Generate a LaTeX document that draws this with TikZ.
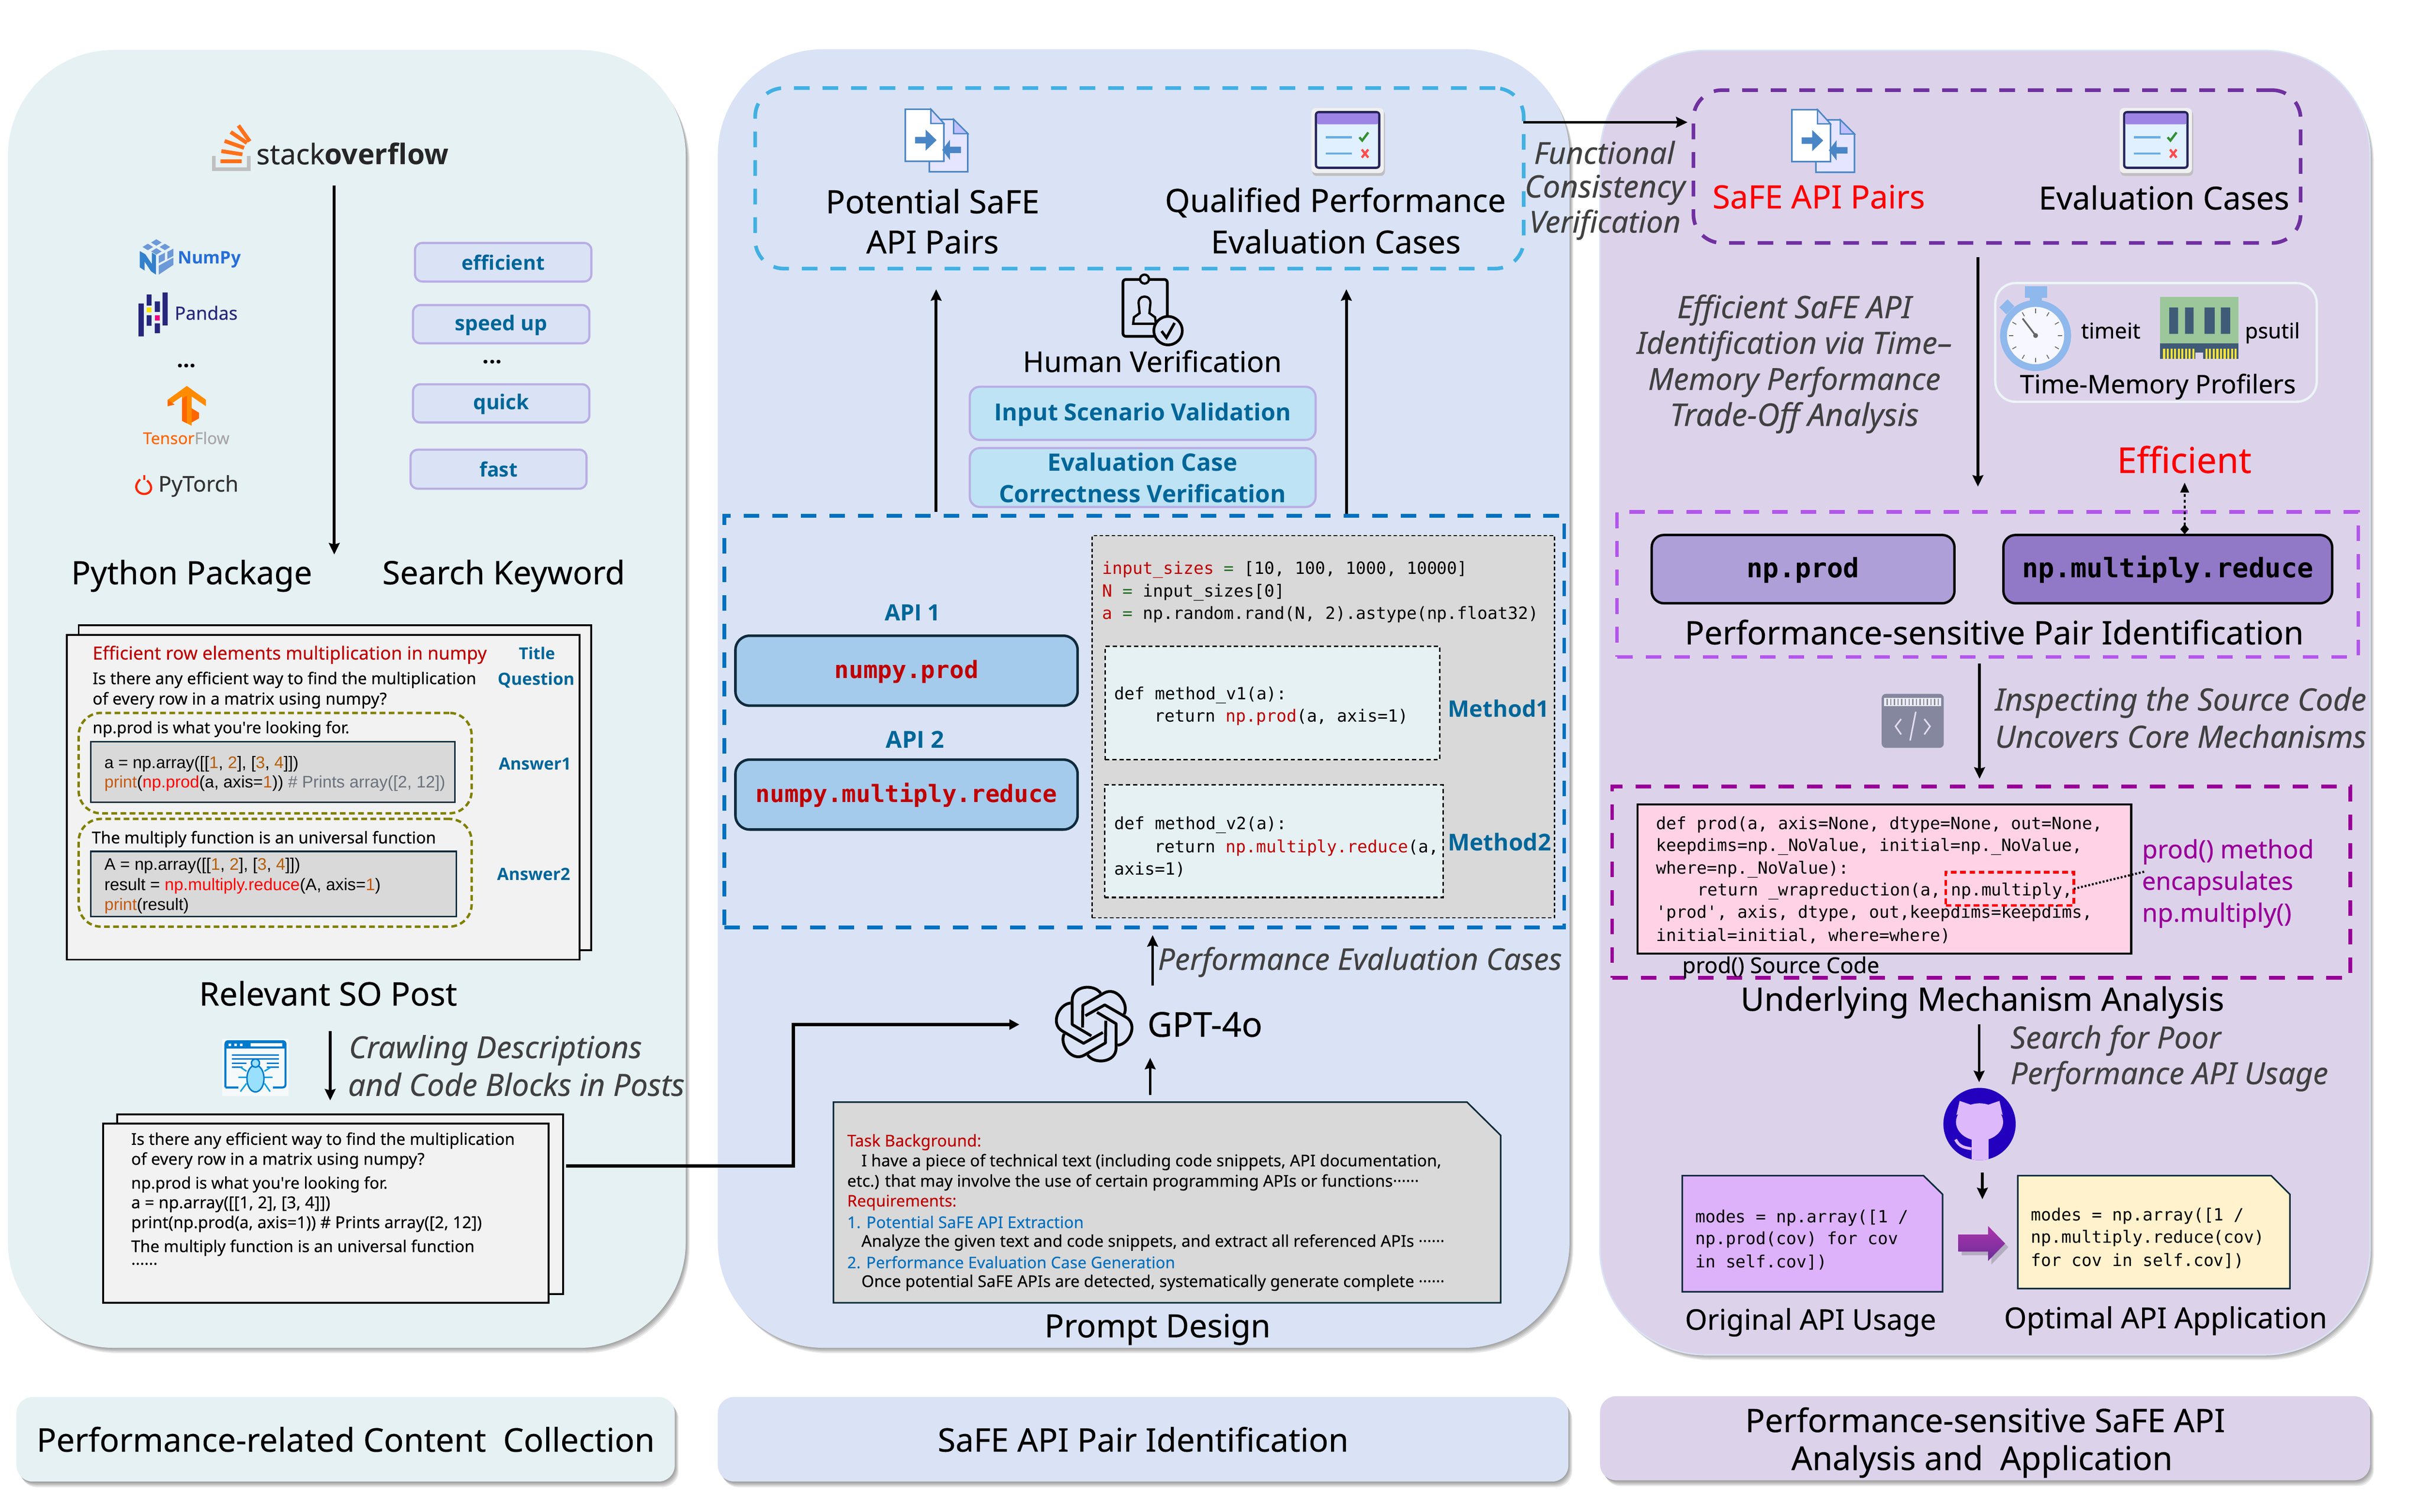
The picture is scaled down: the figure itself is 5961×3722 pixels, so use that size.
\documentclass[tikz,border=0pt]{standalone}
\usepackage{fontspec}
\setmainfont{Noto Sans}[FakeBold=0.2]
\setmonofont{DejaVu Sans Mono}
\newfontfamily\ars{Liberation Sans}
\newfontfamily\osb{Open Sans}
\usetikzlibrary{arrows.meta,calc}
\definecolor{pa}{HTML}{E6F1F4}
\definecolor{pb}{HTML}{DAE3F5}
\definecolor{pc}{HTML}{DCD3EB}
\definecolor{kwb}{HTML}{B9ADE5}
\definecolor{ttl}{HTML}{006699}
\definecolor{darkred}{HTML}{C00000}
\definecolor{num}{HTML}{B45F06}
\definecolor{prn}{HTML}{C55A11}
\definecolor{cmt}{HTML}{6A737D}
\definecolor{navy}{HTML}{0F2B3C}
\definecolor{ital}{HTML}{404040}
\definecolor{cya}{HTML}{41B0E3}
\definecolor{blu}{HTML}{0070C0}
\definecolor{pur}{HTML}{7030A0}
\definecolor{vio}{HTML}{B455EC}
\definecolor{mag}{HTML}{990099}
\definecolor{gry}{HTML}{D9D9D9}
\definecolor{olv}{HTML}{808000}
\definecolor{apif}{HTML}{A5CBEC}
\definecolor{chkf}{HTML}{BEE3F5}
\definecolor{pka}{HTML}{AF9FD8}
\definecolor{pkb}{HTML}{9279C7}
\definecolor{pnk}{HTML}{FFD3E5}
\definecolor{noteL}{HTML}{DDB2FA}
\definecolor{noteR}{HTML}{FFF2CC}
\definecolor{gh}{HTML}{2200BE}
\definecolor{cat}{HTML}{DDB9FB}
\definecolor{watch}{HTML}{8FB8EC}
\definecolor{codeg}{HTML}{85879E}
\definecolor{icb}{HTML}{4A86C5}
\definecolor{ramg}{HTML}{9CC79A}
\definecolor{rams}{HTML}{3F5B78}
\makeatletter
\newcommand\fw[2]{\sbox0{\fontsize{10pt}{12pt}\selectfont #2}\edef\fwz{\fpeval{10*#1*0.284528/\strip@pt\wd0}}\fontsize{\fwz pt}{\fwz pt}\selectfont\rule[-.09em]{0pt}{.94em}#2}
\makeatother
\newcommand\cdf{\ttfamily\fontsize{11.8pt}{14pt}\selectfont\rule[-.09em]{0pt}{.94em}}
\newcommand\T[6][]{\node[txt,#1] (#2) at (#3,#4) {\fw{#5}{#6}};}
\newcommand\C[4]{\node[txt,anchor=west] (#1) at (#2,#3) {\cdf #4};}
\newcommand\B[7][]{\node[boxn,minimum width=\fpeval{(#5-#3)*0.01}cm,minimum height=\fpeval{(#6-#4)*0.01}cm,#1] (#2) at (\fpeval{(#3+#5)/2},\fpeval{(#4+#6)/2}) {#7};}
\newcommand\panel[5]{%
  \foreach \k in {14,11,8,5,2}{\fill[black,opacity=.09,rounded corners=#5 cm] (#1+\k*0.7,#2+\k) rectangle (#3+\k*0.7,#4+\k);}%
}
\newcommand\fileicon[2]{\begin{scope}[shift={(#1,#2)}]
 \draw[fill=blue!10!white,draw=icb,line width=1.1pt] (59,25) -- (119,25) -- (154,60) -- (154,154) -- (59,154) -- cycle;
 \draw[fill=blue!25!white,draw=icb,line width=.9pt] (119,25) -- (119,60) -- (154,60) -- cycle;
 \draw[fill=white,draw=icb,line width=1.1pt] (0,0) -- (63,0) -- (95,35) -- (95,128) -- (0,128) -- cycle;
 \draw[fill=blue!15!white,draw=icb,line width=.9pt] (63,0) -- (63,35) -- (95,35) -- cycle;
 \fill[icb] (24,68) -- (50,68) -- (50,50) -- (77,76) -- (50,102) -- (50,84) -- (24,84) -- cycle;
 \fill[icb] (137,92) -- (110,92) -- (110,75) -- (91,100) -- (110,125) -- (110,108) -- (137,108) -- cycle;
\end{scope}}
\newcommand\evalicon[2]{\begin{scope}[shift={(#1,#2)}]
 \fill[black!25,rounded corners=3pt] (2,6) rectangle (181,167);
 \fill[black!6,rounded corners=3pt] (0,0) rectangle (178,160);
 \draw[fill=blue!50!cyan!12,draw=blue!25!black!85,line width=1.6pt,rounded corners=2pt] (11,10) rectangle (167,147);
 \fill[blue!35!white!80!violet,rounded corners=1pt] (14,13) rectangle (164,40);
 \draw[cyan!70!blue!60,line width=1.4pt] (35,72) -- (100,72) (35,112) -- (100,112);
 \draw[green!45!black!80,line width=1.6pt] (118,72) -- (125,80) -- (140,60);
 \draw[red!70,line width=1.6pt] (124,102) -- (140,122) (140,102) -- (124,122);
\end{scope}}
\tikzset{
 txt/.style={inner sep=0pt,outer sep=0pt},
 boxn/.style={inner sep=0pt,outer sep=0pt,align=center},
 tl/.style={anchor=west},
 kw/.style={draw=kwb,fill=pb,line width=1.5pt,rounded corners=.18cm,text=ttl,font=\osb\bfseries},
 chk/.style={draw=kwb,fill=chkf,line width=1.5pt,rounded corners=.25cm,text=ttl,font=\osb\bfseries},
 page/.style={draw=black,fill=black!5,line width=1.3pt},
 dsh/.style={dash pattern=on 11pt off 9pt,line width=2.56pt},
 olbox/.style={draw=olv,line width=1.7pt,dash pattern=on 4pt off 2.4pt,rounded corners=.55cm},
 cbox/.style={draw=navy,fill=gry,line width=1.1pt},
 apibox/.style={draw=navy,fill=apif,line width=1.8pt,rounded corners=.35cm,text=darkred,font=\ttfamily\bfseries},
 mbox/.style={draw=black,fill=pa,line width=1.1pt,dash pattern=on 3pt off 2pt},
 note/.style={draw=navy,line width=1.1pt},
 arr/.style={draw=black,line width=2pt,-{Stealth[length=8pt,width=7.5pt,inset=1pt]}},
 it/.style={font=\itshape,text=ital},
 ttlt/.style={text=ttl,font=\osb\bfseries},
}
\begin{document}
\begin{tikzpicture}[x=0.01cm,y=-0.01cm]
\useasboundingbox (0,0) rectangle (5961,3722);
\fill[white] (0,0) rectangle (5961,3722);
% panels and shadows
\panel{20}{124}{1688}{3317}{2.6}
\panel{1768}{122}{3864}{3317}{2.6}
\panel{3940}{125}{5835}{3334}{2.6}
\panel{41}{3439}{1661}{3647}{.4}
\panel{1768}{3439}{3861}{3647}{.4}
\panel{3940}{3437}{5835}{3644}{.4}
\B[fill=pa,rounded corners=2.6cm]{pnlA}{20}{124}{1688}{3317}{}
\B[fill=pb,rounded corners=2.6cm]{pnlB}{1768}{122}{3864}{3317}{}
\B[fill=pc,draw=pb,line width=1pt,rounded corners=2.6cm]{pnlC}{3940}{125}{5835}{3334}{}
\B[fill=pa,rounded corners=.4cm]{barA}{41}{3439}{1661}{3647}{\fw{1521}{Performance-related Content~~Collection}}
\B[fill=pb,rounded corners=.4cm]{barB}{1768}{3439}{3861}{3647}{\fw{1011}{SaFE API Pair Identification}}
\B[fill=pc,rounded corners=.4cm]{barC}{3940}{3437}{5835}{3644}{}
\T{barCa}{4888}{3495}{1181}{Performance-sensitive SaFE API}
\T{barCb}{4880}{3594}{938}{Analysis and~~Application}
% ---------- panel A: logos
\fill[black!25] (522,384) rectangle (531,421) (608,384) rectangle (617,421) (522,412) rectangle (617,421);
\draw[orange!75!red!90,line width=2.7pt] (543,397) -- (595,397) (545,372) -- (597,380) (553,347) -- (601,364) (568,325) -- (608,352) (587,309) -- (615,348);
\T[tl,text=black!85]{so}{631}{378}{473}{stack{\osb\bfseries overflow}}
\coordinate (aS) at (823,457); \coordinate (aE) at (823,1365);
\draw[arr] (aS) -- (aE);
% numpy
\fill[cyan!50!blue!60] (385,589) -- (398,597) -- (385,605) -- (372,597) -- cycle (364,600) -- (377,608) -- (364,616) -- (351,608) -- cycle (406,600) -- (419,608) -- (406,616) -- (393,608) -- cycle (385,611) -- (398,619) -- (385,627) -- (372,619) -- cycle;
\fill[blue!50!cyan!60!gray] (344,618) -- (358,626) -- (374,650) -- (374,622) -- (384,628) -- (384,676) -- (372,668) -- (356,644) -- (356,666) -- (344,658) -- cycle;
\fill[cyan!50!blue!60] (391,630) -- (406,622) -- (406,640) -- (391,648) -- cycle (412,620) -- (427,612) -- (427,630) -- (412,638) -- cycle (391,654) -- (427,634) -- (427,652) -- (391,676) -- cycle;
\T[tl,text=blue!60!cyan!70!gray,font=\osb\bfseries]{numpy}{438}{636}{155}{NumPy}
% pandas
\fill[blue!40!black!85] (341,747) rectangle (354,828) (361,725) rectangle (373,752) (361,776) rectangle (373,802) (381,742) rectangle (394,768) (381,796) rectangle (394,820) (400,720) rectangle (413,801);
\fill[yellow!85!orange] (361,757) rectangle (373,769); \fill[magenta!90!red] (381,776) rectangle (394,789);
\T[tl,text=blue!40!black!85]{pandas}{430}{770}{155}{Pandas}
\T[font=\osb\bfseries]{dots1}{459}{883}{47}{...}
% tensorflow
\fill[orange!90!yellow] (413,984) -- (460,950) -- (507,984) -- (507,1000) -- (472,976) -- (472,1048) -- (448,1036) -- (448,976) -- (413,1000) -- cycle;
\fill[orange!80!red] (448,982) -- (460,974) -- (460,1042) -- (448,1036) -- cycle (472,1005) -- (490,1016) -- (490,1030) -- (472,1040) -- cycle (413,984) -- (430,996) -- (413,1000) -- cycle;
\T[tl]{tf}{352}{1078}{213}{\textcolor{orange!80!red}{Tensor}\textcolor{black!35}{Flow}}
% pytorch
\draw[red!70!orange,line width=1.5pt] (345,1180) .. controls (325,1200) and (340,1216) .. (355,1216) .. controls (372,1216) and (380,1198) .. (362,1183);
\draw[red!70!orange,line width=1.5pt] (355,1182) -- (355,1169);
\T[tl,text=black!80]{pt}{390}{1194}{197}{PyTorch}
% keywords
\B[kw]{kA}{1022}{598}{1456}{693}{\fw{204}{efficient}}
\B[kw]{kB}{1017}{751}{1451}{845}{\fw{227}{speed up}}
\T[font=\osb\bfseries]{dots2}{1212}{874}{47}{...}
\B[kw]{kC}{1017}{946}{1451}{1040}{\fw{138}{quick}}
\B[kw]{kD}{1011}{1107}{1444}{1203}{\fw{94}{fast}}
\T{pyp}{472}{1414}{593}{Python Package}
\T{skw}{1240}{1414}{597}{Search Keyword}
% SO post
\B[page]{pBack}{194}{1539}{1455}{2339}{}
\B[page]{pFront}{165}{1563}{1427}{2362}{}
\T[tl,text=darkred]{pt1}{228}{1610}{970}{Efficient row elements multiplication in numpy}
\T[ttlt]{lt1}{1322}{1608}{89}{Title}
\T[ttlt]{lt2}{1320}{1672}{189}{Question}
\T[tl]{q1}{228}{1672}{944}{Is there any efficient way to find the multiplication}
\T[tl]{q2}{228}{1722}{724}{of every row in a matrix using numpy?}
\B[olbox]{an1}{194}{1755}{1161}{2002}{}
\B[olbox]{an2}{194}{2016}{1161}{2281}{}
\T[tl]{a1t}{228}{1793}{632}{np.prod is what you\textquotesingle re looking for.}
\B[cbox]{c1}{224}{1826}{1120}{1975}{}
\T[tl,font=\ars]{c1a}{257}{1878}{478}{a = np.array([[\textcolor{num}{1}, \textcolor{num}{2}], [\textcolor{num}{3}, \textcolor{num}{4}]])}
\T[tl,font=\ars]{c1b}{257}{1926}{839}{\textcolor{prn}{print}(\textcolor{red}{np.prod}(a, axis=\textcolor{prn}{1})) \textcolor{cmt}{\# Prints array([2, 12])}}
\T[ttlt]{lt3}{1317}{1879}{178}{Answer1}
\T[tl]{a2t}{226}{2064}{847}{The multiply function is an universal function}
\B[cbox]{c2}{224}{2096}{1123}{2256}{}
\T[tl,font=\ars]{c2a}{257}{2128}{482}{A = np.array([[\textcolor{num}{1}, \textcolor{num}{2}], [\textcolor{num}{3}, \textcolor{num}{4}]])}
\T[tl,font=\ars]{c2b}{257}{2178}{680}{result = \textcolor{red}{np.multiply.reduce}(A, axis=\textcolor{prn}{1})}
\T[tl,font=\ars]{c2c}{257}{2227}{208}{\textcolor{prn}{print}(result)}
\T[ttlt]{lt4}{1314}{2151}{180}{Answer2}
\T{rso}{808}{2445}{635}{Relevant SO Post}
% crawler icon
\begin{scope}[shift={(547,2557)}]
 \fill[white,opacity=.6] (0,0) rectangle (163,141);
 \draw[blue!40!cyan!80!black,line width=1.4pt,rounded corners=2pt] (8,120) -- (8,6) -- (156,6) -- (156,120) -- (125,120) (8,120) -- (40,120);
 \fill[blue!40!cyan!80!black] (8,6) rectangle (156,24);
 \fill[white] (70,11) rectangle (148,19) (16,12) rectangle (22,18) (30,12) rectangle (36,18) (44,12) rectangle (50,18);
 \draw[blue!40!cyan!80!black,line width=1.1pt] (24,40) -- (140,40) (24,50) -- (140,50) (24,60) -- (60,60) (110,60) -- (140,60) (24,70) -- (50,70) (110,70) -- (140,70);
 \draw[blue!30!cyan!90!black,line width=1pt] (60,80) -- (45,70) (60,95) -- (40,95) (60,110) -- (45,130) (104,80) -- (120,70) (104,95) -- (124,95) (104,110) -- (118,130);
 \draw[fill=blue!30!cyan!40,draw=blue!40!cyan!80!black,line width=1pt] (82,98) ellipse [x radius=21,y radius=33];
 \draw[fill=blue!30!cyan!40,draw=blue!40!cyan!80!black,line width=1pt] (82,60) circle [radius=10];
\end{scope}
\coordinate (crS) at (813,2538); \coordinate (crE) at (813,2709);
\draw[arr] (crS) -- (crE);
\T[tl,it]{cr1}{859}{2582}{721}{Crawling Descriptions}
\T[tl,it]{cr2}{857}{2669}{828}{and Code Blocks in Posts}
\B[page]{dBack}{289}{2743}{1386}{3185}{}
\B[page]{dFront}{254}{2766}{1350}{3207}{}
\T[tl]{d1}{323}{2806}{944}{Is there any efficient way to find the multiplication}
\T[tl]{d2}{323}{2855}{722}{of every row in a matrix using numpy?}
\T[tl]{d3}{323}{2914}{631}{np.prod is what you\textquotesingle re looking for.}
\T[tl]{d4}{323}{2962}{490}{a = np.array([[1, 2], [3, 4]])}
\T[tl]{d5}{323}{3011}{863}{print(np.prod(a, axis=1)) \# Prints array([2, 12])}
\T[tl]{d6}{323}{3070}{845}{The multiply function is an universal function}
\T[tl]{d7}{323}{3098}{65}{......}
% connector to GPT
\coordinate (cnS) at (1394,2870); \coordinate (cnM) at (1953,2870); \coordinate (cnT) at (1953,2522); \coordinate (cnE) at (2510,2522);
\draw[draw=black,line width=2.3pt,-{Stealth[length=7pt,width=7pt,inset=0pt]}] (cnS) -- (cnM) -- (cnT) -- (cnE);
% ---------- panel B
\B[draw=cya,dsh,rounded corners=.7cm]{cy}{1860}{217}{3751}{661}{}
\fileicon{2229}{269}
\evalicon{3229}{266}
\T{pot1}{2296}{495}{526}{Potential SaFE}
\T{pot2}{2296}{594}{326}{API Pairs}
\T{qu1}{3288}{495}{839}{Qualified Performance}
\T{qu2}{3289}{594}{615}{Evaluation Cases}
\coordinate (upAs) at (2305,1260); \coordinate (upAe) at (2305,712);
\coordinate (upBs) at (3315,1270); \coordinate (upBe) at (3315,712);
\draw[arr] (upAs) -- (upAe);
\draw[arr] (upBs) -- (upBe);
% human icon
\begin{scope}[shift={(2762,673)}]
 \draw[line width=1.9pt,rounded corners=2pt] (3,15) rectangle (112,155);
 \draw[fill=pb,line width=1.6pt] (56,14) circle [radius=11];
 \draw[line width=1.6pt] (28,124) -- (84,124) -- (82,108) -- (68,98) -- (70,78) .. controls (76,50) and (36,50) .. (42,78) -- (44,98) -- (30,108) -- cycle;
 \draw[fill=pb,line width=1.9pt] (114,141) circle [radius=35];
 \draw[line width=1.9pt] (98,142) -- (110,158) -- (130,122);
\end{scope}
\T{hv}{2837}{889}{637}{Human Verification}
\B[chk]{isv}{2388}{952}{3239}{1083}{\fw{730}{Input Scenario Validation}}
\B[chk]{ecv}{2388}{1103}{3239}{1248}{}
\T[ttlt]{ecv1}{2813}{1137}{467}{Evaluation Case}
\T[ttlt]{ecv2}{2813}{1214}{706}{Correctness Verification}
\B[draw=blu,dsh]{bl}{1784}{1270}{3851}{2283}{}
\T[ttlt]{api1}{2247}{1507}{137}{API 1}
\B[apibox]{ap1}{1811}{1565}{2653}{1737}{\fw{354}{numpy.prod}}
\T[ttlt]{api2}{2253}{1819}{143}{API 2}
\B[apibox]{ap2}{1811}{1870}{2653}{2042}{\fw{742}{numpy.multiply.reduce}}
\B[fill=gry,draw=black,line width=.85pt,dash pattern=on 2.5pt off 1.7pt]{gb}{2689}{1319}{3827}{2259}{}
\C{g1}{2714}{1401}{\textcolor{darkred}{input\_sizes} \textcolor{green!40!black!70!gray}{=} [10, 100, 1000, 10000]}
\C{g2}{2714}{1457}{\textcolor{darkred}{N} \textcolor{green!40!black!70!gray}{=} input\_sizes[0]}
\C{g3}{2714}{1511}{\textcolor{darkred}{a} \textcolor{green!40!black!70!gray}{=} np.random.rand(N, 2).astype(np.float32)}
\B[mbox]{m1}{2721}{1591}{3545}{1870}{}
\C{m1a}{2744}{1709}{def method\_v1(a):}
\C{m1b}{2843}{1764}{return \textcolor{darkred}{np.prod}(a, axis=1)}
\T[ttlt]{lm1}{3690}{1744}{249}{Method1}
\B[mbox]{m2}{2720}{1932}{3553}{2209}{}
\C{m2a}{2744}{2029}{def method\_v2(a):}
\C{m2b}{2843}{2085}{return \textcolor{darkred}{np.multiply.reduce}(a,}
\C{m2c}{2744}{2139}{axis=1)}
\T[ttlt]{lm2}{3692}{2072}{254}{Method2}
\coordinate (peS) at (2838,2426); \coordinate (peE) at (2838,2302);
\draw[arr] (peS) -- (peE);
\T[tl,it]{pe}{2851}{2365}{994}{Performance Evaluation Cases}
% gpt logo
\begin{scope}[shift={(2694,2521)}]
 \foreach \a in {0,60,...,300}{
  \draw[black,line width=2pt,line join=round,rotate=\a] (16,-76) .. controls (0,-100) and (-54,-95) .. (-54,-59) -- (-54,1) -- (-7,29);
 }
\end{scope}
\T[tl]{gpt}{2825}{2520}{283}{GPT-4o}
\coordinate (prS) at (2832,2696); \coordinate (prE) at (2832,2604);
\draw[arr] (prS) -- (prE);
\draw[note,fill=gry] (2052,2713) -- (3612,2713) -- (3695,2795) -- (3695,3207) -- (2052,3207) -- cycle;
\T[tl,text=darkred]{n1}{2086}{2810}{330}{Task Background:}
\T[tl]{n2}{2121}{2859}{1427}{I have a piece of technical text (including code snippets, API documentation,}
\T[tl]{n3}{2086}{2909}{1407}{etc.) that may involve the use of certain programming APIs or functions······}
\T[tl,text=darkred]{n4}{2086}{2958}{269}{Requirements:}
\T[tl,text=blu]{n5}{2086}{3008}{582}{1. Potential SaFE API Extraction}
\T[tl]{n6}{2121}{3057}{1435}{Analyze the given text and code snippets, and extract all referenced APIs ······}
\T[tl,text=blu]{n7}{2086}{3107}{807}{2. Performance Evaluation Case Generation}
\T[tl]{n8}{2121}{3156}{1435}{Once potential SaFE APIs are detected, systematically generate complete ······}
\T{pd}{2850}{3268}{556}{Prompt Design}
% ---------- verification labels & link
\T[tl,it]{fc1}{3777}{375}{346}{Functional}
\T[tl,it]{fc2}{3754}{463}{395}{Consistency}
\T[tl,it]{fc3}{3765}{550}{373}{Verification}
\coordinate (fcS) at (3751,301); \coordinate (fcE) at (4155,301);
\draw[arr] (fcS) -- (fcE);
% ---------- panel C
\B[draw=pur,dsh,rounded corners=.7cm]{pu}{4170}{222}{5664}{598}{}
\fileicon{4412}{270}
\evalicon{5219}{266}
\T[text=red]{sap}{4478}{483}{523}{SaFE API Pairs}
\T{evc}{5328}{486}{617}{Evaluation Cases}
\coordinate (eS) at (4870,633); \coordinate (eE) at (4870,1198);
\draw[arr] (eS) -- (eE);
\T[it]{ef1}{4418}{760}{577}{Efficient SaFE API}
\T[it]{ef2}{4418}{848}{776}{Identification via Time–}
\T[it]{ef3}{4418}{937}{720}{Memory Performance}
\T[it]{ef4}{4418}{1025}{613}{Trade-Off Analysis}
\B[draw=pa!70!white,line width=1.6pt,rounded corners=.5cm]{prof}{4913}{697}{5704}{989}{}
% stopwatch
\begin{scope}[shift={(5012,826)}]
 \fill[watch] (-26,-121) rectangle (28,-93);
 \fill[watch] (-14,-95) rectangle (16,-80);
 \fill[watch,rotate=45] (-14,-112) rectangle (14,-88);
 \draw[fill=blue!3!white,draw=watch,line width=4.8pt] (0,0) circle [radius=79];
 \foreach \a in {0,30,...,330}{\draw[black!60,line width=.6pt,rotate=\a] (0,-66) -- (0,-55);}
 \draw[black!60,line width=1.2pt] (0,0) -- (-32,-42);
 \fill[black!60] (0,0) circle [radius=6];
\end{scope}
\T{timeit}{5197}{813}{146}{timeit}
% ram
\fill[ramg] (5318,731) rectangle (5512,845);
\fill[rams] (5341,757) rectangle (5363,822) (5380,757) rectangle (5401,822) (5428,757) rectangle (5453,822) (5468,757) rectangle (5491,822);
\fill[rams] (5318,845) rectangle (5512,883);
\foreach \x in {5326,5335,...,5400,5430,5439,...,5504}{\fill[yellow!80!orange!80] (\x,858) rectangle (\x+5,883);}
\fill[pc] (5405,868) rectangle (5425,883);
\T{psutil}{5595}{817}{135}{psutil}
\T{tmp}{5313}{949}{679}{Time-Memory Profilers}
\T[text=red]{effi}{5378}{1131}{331}{Efficient}
\B[draw=vio,dsh]{vi}{3982}{1260}{5806}{1617}{}
\B[fill=pka,draw=black,line width=1.7pt,rounded corners=.3cm,font=\ttfamily\bfseries]{npp}{4067}{1317}{4812}{1485}{\fw{277}{np.prod}}
\B[fill=pkb,draw=black,line width=1.7pt,rounded corners=.3cm,font=\ttfamily\bfseries]{npm}{4933}{1317}{5742}{1485}{\fw{717}{np.multiply.reduce}}
\coordinate (dbS) at (5379,1315); \coordinate (dbE) at (5379,1188);
\draw[line width=1.3pt,dash pattern=on 2pt off 2pt,{Diamond[length=7pt,width=6pt]}-{Stealth[length=7pt,width=6pt,inset=0pt]}] (dbS) -- (dbE);
\T{psp}{4910}{1556}{1523}{Performance-sensitive Pair Identification}
\coordinate (inS) at (4874,1633); \coordinate (inE) at (4874,1917);
\draw[arr] (inS) -- (inE);
% code icon
\begin{scope}[shift={(4633,1708)}]
 \fill[codeg,rounded corners=3pt] (0,0) rectangle (153,133);
 \fill[blue!8!white] (6,10) rectangle (147,30);
 \foreach \x in {12,21,...,140}{\fill[black!45] (\x,12) rectangle (\x+3,28);}
 \draw[pc!80!white,line width=1.1pt] (48,62) -- (34,80) -- (48,100) (105,62) -- (119,80) -- (105,100) (84,44) -- (70,115);
\end{scope}
\T[tl,it]{is1}{4912}{1726}{914}{Inspecting the Source Code}
\T[tl,it]{is2}{4912}{1812}{914}{Uncovers Core Mechanisms}
\B[draw=mag,dsh]{mg}{3970}{1936}{5786}{2407}{}
\B[fill=pnk,draw=black,line width=1.4pt]{src}{4032}{1980}{5247}{2347}{}
\C{s1}{4078}{2028}{def prod(a, axis=None, dtype=None, out=None,}
\C{s2}{4078}{2083}{keepdims=np.\_NoValue, initial=np.\_NoValue,}
\C{s3}{4078}{2138}{where=np.\_NoValue):}
\C{s4}{4179}{2192}{return \_wrapreduction(a, np.multiply,}
\C{s5}{4078}{2247}{\textquotesingle prod\textquotesingle, axis, dtype, out,keepdims=keepdims,}
\C{s6}{4078}{2302}{initial=initial, where=where)}
\B[draw=red,line width=1.8pt,dash pattern=on 4pt off 2.5pt]{rb}{4791}{2147}{5106}{2229}{}
\coordinate (dlE) at (5283,2145);
\draw[line width=1.5pt,dash pattern=on 1.3pt off 1.3pt] (rb.east) -- (dlE);
\T[tl,text=mag]{pm1}{5274}{2094}{423}{prod() method}
\T[tl,text=mag]{pm2}{5274}{2172}{372}{encapsulates}
\T[tl,text=mag]{pm3}{5274}{2250}{368}{np.multiply()}
\T[tl]{psc}{4142}{2379}{485}{prod() Source Code}
\T{uma}{4881}{2464}{1190}{Underlying Mechanism Analysis}
\coordinate (ghS) at (4873,2522); \coordinate (ghE) at (4873,2664);
\draw[arr] (ghS) -- (ghE);
\T[tl,it]{sp1}{4950}{2558}{518}{Search for Poor}
\T[tl,it]{sp2}{4950}{2646}{782}{Performance API Usage}
% github
\begin{scope}
 \fill[gh] (4874,2767) circle [radius=89];
 \clip (4874,2767) circle [radius=89];
 \fill[cat] (4874,2762) ellipse [x radius=58,y radius=46];
 \fill[cat] (4817,2745) -- (4825,2710) -- (4860,2722) -- cycle (4931,2745) -- (4923,2710) -- (4888,2722) -- cycle;
 \fill[cat] (4854,2800) rectangle (4896,2860);
 \draw[cat,line width=2pt] (4815,2805) .. controls (4825,2825) and (4840,2825) .. (4854,2828);
\end{scope}
\coordinate (opS) at (4881,2886); \coordinate (opE) at (4881,2952);
\draw[arr] (opS) -- (opE);
\draw[note,fill=noteL] (4142,2894) -- (4736,2894) -- (4783,2940) -- (4783,3180) -- (4142,3180) -- cycle;
\C{o1}{4174}{2996}{modes = np.array([1 /}
\C{o2}{4174}{3050}{np.prod(cov) for cov}
\C{o3}{4174}{3106}{in self.cov])}
\draw[note,fill=noteR] (4968,2894) -- (5592,2894) -- (5638,2940) -- (5638,3172) -- (4968,3172) -- cycle;
\C{r1}{5001}{2992}{modes = np.array([1 /}
\C{r2}{5001}{3046}{np.multiply.reduce(cov)}
\C{r3}{5001}{3102}{for cov in self.cov])}
\fill[black,opacity=.18] (4830,3048) -- (4903,3048) -- (4903,3027) -- (4945,3070) -- (4903,3113) -- (4903,3090) -- (4830,3090) -- cycle;
\shade[top color=mag!80!white,bottom color=pur!95!black] (4822,3039) -- (4895,3039) -- (4895,3018) -- (4937,3061) -- (4895,3104) -- (4895,3081) -- (4822,3081) -- cycle;
\T{oau}{4458}{3252}{618}{Original API Usage}
\T{oaa}{5332}{3248}{795}{Optimal API Application}
\end{tikzpicture}
\end{document}
